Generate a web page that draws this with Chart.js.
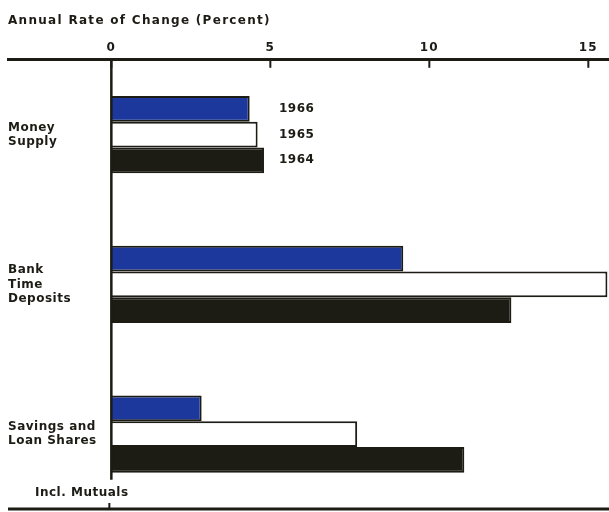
<!DOCTYPE html>
<html>
<head>
<meta charset="utf-8">
<script src="https://cdn.jsdelivr.net/npm/chart.js@4/dist/chart.umd.min.js"></script>
<style>
  html, body { margin: 0; padding: 0; background: #ffffff; }
  #wrap { width: 609px; height: 512px; }
</style>
</head>
<body>
<div id="wrap"><canvas id="c" width="609" height="512"></canvas></div>
<script>
const categories = [["Money", "Supply"], ["Bank", "Time", "Deposits"], ["Savings and", "Loan Shares"]];
const categoryNote = "Incl. Mutuals";
const seriesNames = ["1966", "1965", "1964"];
const values1966 = [4.35, 9.18, 2.84];
const values1965 = [4.6, 15.6, 7.73];
const values1964 = [4.8, 12.58, 11.1];
const tickValues = [0, 5, 10, 15];
const axisTitle = "Annual Rate of Change (Percent)";

const INK = '#1c1b14';
const FONT = '"DejaVu Sans", sans-serif';

const spacing = {
  id: 'spacing',
  beforeDraw(chart) { chart.ctx.letterSpacing = '1.3px'; },
  afterDatasetsDraw(chart) { chart.ctx.letterSpacing = '0.5px'; },
  afterDraw(chart) { chart.ctx.letterSpacing = '0px'; }
};

const decor = {
  id: 'decor',
  afterDatasetsDraw(chart) {
    const ctx = chart.ctx;
    const x = chart.scales.x;
    const area = chart.chartArea;
    const zero = x.getPixelForValue(0);
    ctx.save();
    ctx.letterSpacing = '0.5px';
    ctx.strokeStyle = INK;
    ctx.fillStyle = INK;
    // short tick marks below the top axis
    ctx.lineWidth = 2;
    tickValues.forEach(v => {
      const px = x.getPixelForValue(v);
      ctx.beginPath();
      ctx.moveTo(px, area.top);
      ctx.lineTo(px, area.top + 8);
      ctx.stroke();
    });
    // zero line down to just below the last group
    const lastMeta = chart.getDatasetMeta(chart.data.datasets.length - 1);
    const lastBar = lastMeta.data[lastMeta.data.length - 1];
    const groupBottom = lastBar.y + lastBar.height / 2;
    ctx.lineWidth = 2.5;
    ctx.beginPath();
    ctx.moveTo(zero, area.top);
    ctx.lineTo(zero, groupBottom + 7);
    ctx.stroke();
    // bottom rule with small tick at zero
    ctx.lineWidth = 3;
    ctx.beginPath();
    ctx.moveTo(area.left, area.bottom);
    ctx.lineTo(area.right, area.bottom);
    ctx.stroke();
    ctx.lineWidth = 2;
    ctx.beginPath();
    ctx.moveTo(zero - 2, area.bottom);
    ctx.lineTo(zero - 2, area.bottom - 6);
    ctx.stroke();
    // note under the last category
    ctx.font = 'bold 12px ' + FONT;
    ctx.textBaseline = 'middle';
    ctx.textAlign = 'left';
    ctx.fillText(categoryNote, area.left + 27, (groupBottom + area.bottom) / 2 + 2);
    // series labels beside the first group
    let maxEnd = 0;
    chart.data.datasets.forEach((ds, i) => {
      const bar = chart.getDatasetMeta(i).data[0];
      maxEnd = Math.max(maxEnd, bar.x);
    });
    chart.data.datasets.forEach((ds, i) => {
      const bar = chart.getDatasetMeta(i).data[0];
      ctx.fillText(ds.label, maxEnd + 15, bar.y);
    });
    ctx.restore();
  }
};

new Chart(document.getElementById('c'), {
  type: 'bar',
  data: {
    labels: categories,
    datasets: [
      { label: seriesNames[0], data: values1966, backgroundColor: '#1c389c', borderColor: INK, borderWidth: 2 },
      { label: seriesNames[1], data: values1965, backgroundColor: '#ffffff', borderColor: INK, borderWidth: 2 },
      { label: seriesNames[2], data: values1964, backgroundColor: INK, borderColor: INK, borderWidth: 2 }
    ]
  },
  plugins: [spacing, decor],
  options: {
    indexAxis: 'y',
    responsive: false,
    animation: false,
    devicePixelRatio: 1,
    layout: { padding: { left: 8, right: 0, top: 0, bottom: 3 } },
    datasets: { bar: { categoryPercentage: 0.515, barPercentage: 1.0 } },
    plugins: {
      legend: { display: false },
      tooltip: { enabled: false },
      title: { display: false }
    },
    scales: {
      x: {
        position: 'top',
        min: -3.25,
        max: 15.65,
        afterBuildTicks(scale) { scale.ticks = tickValues.map(v => ({ value: v })); },
        grid: { display: false, drawTicks: false },
        border: { display: true, color: INK, width: 3 },
        ticks: {
          color: INK,
          font: { family: FONT, size: 12, weight: 'bold' },
          padding: 5,
          maxRotation: 0,
          autoSkip: false
        },
        title: {
          display: true,
          text: axisTitle,
          align: 'start',
          color: INK,
          font: { family: FONT, size: 12, weight: 'bold' },
          padding: { top: 14, bottom: 7 }
        }
      },
      y: {
        position: 'left',
        afterFit(scale) { scale.paddingTop = 0; scale.paddingBottom = 0; },
        grid: { display: false, drawTicks: false },
        border: { display: false },
        ticks: {
          mirror: true,
          padding: 0,
          z: 1,
          color: INK,
          font: { family: FONT, size: 12, weight: 'bold', lineHeight: 1.2 }
        }
      }
    }
  }
});
</script>
</body>
</html>
